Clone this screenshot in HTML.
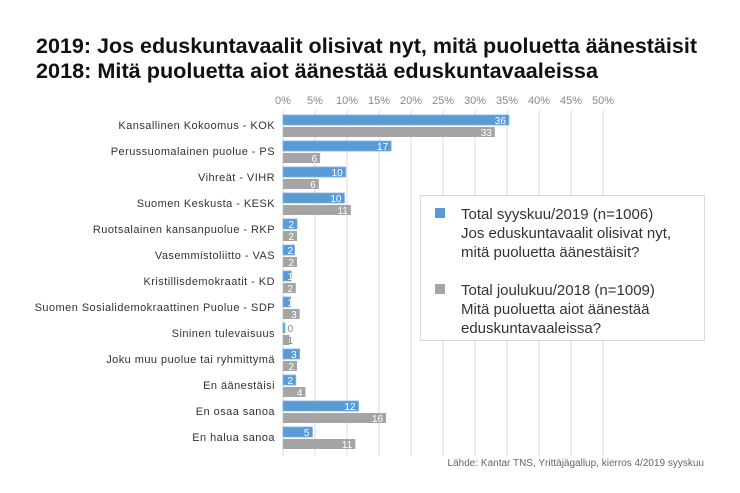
<!DOCTYPE html>
<html><head><meta charset="utf-8"><style>
body{margin:0;background:#fff}
svg{display:block;font-family:"Liberation Sans",sans-serif}
</style></head><body>
<svg width="740" height="493" viewBox="0 0 740 493" xmlns="http://www.w3.org/2000/svg">
<rect width="740" height="493" fill="#fff"/>
<text x="36" y="53" font-size="21" font-weight="bold" fill="#111" textLength="661" lengthAdjust="spacingAndGlyphs">2019: Jos eduskuntavaalit olisivat nyt, mitä puoluetta äänestäisit</text>
<text x="36" y="78" font-size="21" font-weight="bold" fill="#111" textLength="562" lengthAdjust="spacingAndGlyphs">2018: Mitä puoluetta aiot äänestää eduskuntavaaleissa</text>
<g stroke="#d9d9d9" stroke-width="1">
<line x1="283" y1="110" x2="283" y2="456"/><line x1="315" y1="110" x2="315" y2="456"/><line x1="347" y1="110" x2="347" y2="456"/><line x1="379" y1="110" x2="379" y2="456"/><line x1="411" y1="110" x2="411" y2="456"/><line x1="443" y1="110" x2="443" y2="456"/><line x1="475" y1="110" x2="475" y2="456"/><line x1="507" y1="110" x2="507" y2="456"/><line x1="539" y1="110" x2="539" y2="456"/><line x1="571" y1="110" x2="571" y2="456"/><line x1="603" y1="110" x2="603" y2="456"/>
</g>
<g font-size="11" fill="#888" text-anchor="middle">
<text x="283" y="104">0%</text><text x="315" y="104">5%</text><text x="347" y="104">10%</text><text x="379" y="104">15%</text><text x="411" y="104">20%</text><text x="443" y="104">25%</text><text x="475" y="104">30%</text><text x="507" y="104">35%</text><text x="539" y="104">40%</text><text x="571" y="104">45%</text><text x="603" y="104">50%</text>
</g>
<g id="bars" font-size="10" fill="#fff" text-anchor="end"></g>
<g id="labels" font-size="11" fill="#333" text-anchor="end" letter-spacing="0.45"></g>
<rect x="420.5" y="195.5" width="284" height="145" fill="#fff" stroke="#d9d9d9"/>
<rect x="435" y="208" width="10" height="10" fill="#5b9bd5"/>
<rect x="435" y="284" width="10" height="10" fill="#a5a5a5"/>
<g font-size="15" fill="#333">
<text x="461" y="219">Total syyskuu/2019 (n=1006)</text>
<text x="461" y="238">Jos eduskuntavaalit olisivat nyt,</text>
<text x="461" y="257">mitä puoluetta äänestäisit?</text>
<text x="461" y="295">Total joulukuu/2018 (n=1009)</text>
<text x="461" y="314">Mitä puoluetta aiot äänestää</text>
<text x="461" y="333">eduskuntavaaleissa?</text>
</g>
<text x="704" y="466" font-size="10" fill="#666" text-anchor="end">Lähde: Kantar TNS, Yrittäjägallup, kierros 4/2019 syyskuu</text>
<script>
var d=[["Kansallinen Kokoomus - KOK",35.3,36,33.1,33],["Perussuomalainen puolue - PS",16.9,17,5.8,6],["Vihreät - VIHR",9.8,10,5.6,6],["Suomen Keskusta - KESK",9.6,10,10.6,11],["Ruotsalainen kansanpuolue - RKP",2.2,2,2.2,2],["Vasemmistoliitto - VAS",1.8,2,2.2,2],["Kristillisdemokraatit - KD",1.3,1,2.0,2],["Suomen Sosialidemokraattinen Puolue - SDP",1.2,1,2.6,3],["Sininen tulevaisuus",0.3,0,1.0,1],["Joku muu puolue tai ryhmittymä",2.6,3,2.2,2],["En äänestäisi",2.0,2,3.5,4],["En osaa sanoa",11.8,12,16.1,16],["En halua sanoa",4.6,5,11.3,11]];
var ns="http://www.w3.org/2000/svg",B=document.getElementById("bars"),L=document.getElementById("labels");
function el(p,t,a,tx){var e=document.createElementNS(ns,t);for(var k in a)e.setAttribute(k,a[k]);if(tx!=null)e.textContent=tx;p.appendChild(e);}
d.forEach(function(r,i){var y=115+i*26;
el(L,"text",{x:275,y:y+14},r[0]);
var w1=r[1]*6.4,w2=r[3]*6.4;
el(B,"rect",{x:283,y:y,width:w1,height:10,fill:"#5b9bd5",stroke:"#7fb3e3","stroke-width":0.8});
el(B,"rect",{x:283,y:y+12,width:w2,height:10,fill:"#a5a5a5"});
var x1=Math.max(283+w1-3,293),x2=Math.max(283+w2-3,293);
el(B,"text",{x:x1,y:y+9,fill:r[1]<1?"#888":"#fff"},r[2]);
el(B,"text",{x:x2,y:y+21,fill:r[3]<1.5?"#888":"#fff"},r[4]);
});
</script>
</svg>
</body></html>
